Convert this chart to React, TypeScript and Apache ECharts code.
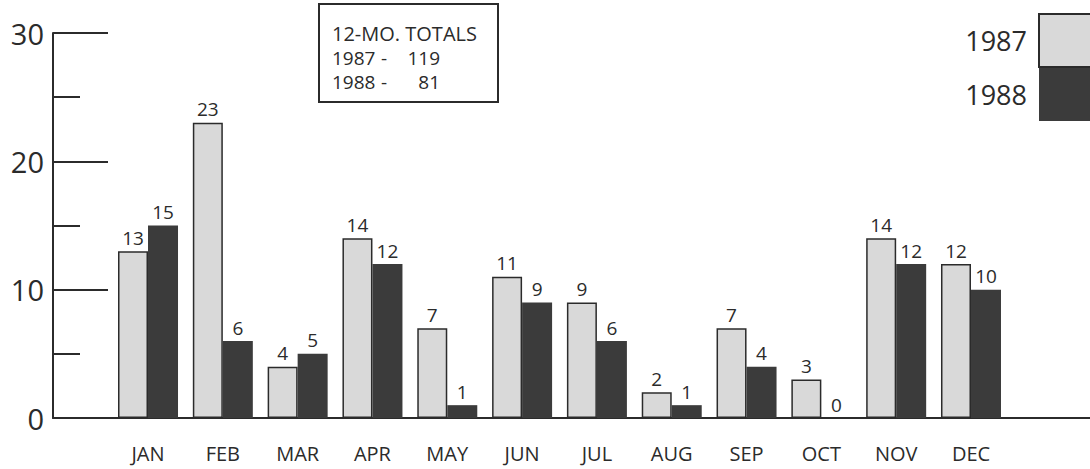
import React, { useEffect, useRef } from "react";
import * as echarts from "echarts";

const months = ["JAN", "FEB", "MAR", "APR", "MAY", "JUN", "JUL", "AUG", "SEP", "OCT", "NOV", "DEC"];
const values1987 = [13, 23, 4, 14, 7, 11, 9, 2, 7, 3, 14, 12];
const values1988 = [15, 6, 5, 12, 1, 9, 6, 1, 4, 0, 12, 10];
const seriesNames = ["1987", "1988"];
const totalsTitle = "12-MO. TOTALS";
const totals = [
  { year: "1987", total: "119" },
  { year: "1988", total: "81" },
];

const FONT = "'Open Sans', 'DejaVu Sans', sans-serif";
const W = 500;
const INK = "#2b2b2b";
const LIGHT = "#d9d9d9";
const DARK = "#3b3b3b";

export default function App() {
  const ref = useRef<HTMLDivElement>(null);

  useEffect(() => {
    if (!ref.current) return;
    const chart = echarts.init(ref.current, undefined, { renderer: "svg" });
    const top = 33;
    const bottom = 51;
    const option: any = {
      animation: false,
      backgroundColor: "#ffffff",
      textStyle: { fontFamily: FONT },
      grid: [
        { left: 110.6, right: 81.6, top, bottom },
        { left: 53, right: 0, top, bottom },
      ],
      xAxis: [
        {
          type: "category",
          gridIndex: 0,
          data: months,
          axisLine: { show: false },
          axisTick: { show: false },
          axisLabel: { color: INK, fontSize: 20, fontWeight: W, fontFamily: FONT, margin: 25 },
        },
        {
          type: "value",
          gridIndex: 1,
          min: 0,
          max: 1,
          axisLine: { show: true, onZero: false, lineStyle: { color: INK, width: 2 } },
          axisTick: { show: false },
          axisLabel: { show: false },
          splitLine: { show: false },
        },
      ],
      yAxis: [
        {
          type: "value",
          gridIndex: 0,
          min: 0,
          max: 30,
          show: false,
        },
        {
          type: "value",
          gridIndex: 1,
          min: 0,
          max: 30,
          interval: 10,
          axisLine: { show: true, lineStyle: { color: INK, width: 2 } },
          axisTick: { show: true, inside: true, length: 55, lineStyle: { color: INK, width: 2 } },
          minorTick: { show: true, splitNumber: 2, length: 27, lineStyle: { color: INK, width: 2 } },
          axisLabel: { color: INK, fontSize: 29, fontWeight: W, fontFamily: FONT, margin: 9 },
          splitLine: { show: false },
          minorSplitLine: { show: false },
        },
      ],
      legend: {
        orient: "vertical",
        right: -8,
        top: 13,
        padding: 0,
        align: "right",
        icon: "rect",
        itemWidth: 58,
        itemHeight: 53,
        itemGap: 0,
        data: seriesNames,
        textStyle: { fontSize: 27, fontWeight: W, color: INK, fontFamily: FONT, padding: [0, 7, 22, 0] },
      },
      series: [
        {
          name: seriesNames[0],
          type: "bar",
          xAxisIndex: 0,
          yAxisIndex: 0,
          data: values1987,
          barWidth: 30,
          barGap: "0%",
          itemStyle: { color: LIGHT, borderColor: INK, borderWidth: 1.5 },
          label: { show: true, position: "top", distance: 4, color: INK, fontSize: 19, fontWeight: W, fontFamily: FONT },
        },
        {
          name: seriesNames[1],
          type: "bar",
          xAxisIndex: 0,
          yAxisIndex: 0,
          data: values1988,
          barWidth: 30,
          barGap: "0%",
          itemStyle: { color: DARK },
          label: { show: true, position: "top", distance: 4, color: INK, fontSize: 19, fontWeight: W, fontFamily: FONT },
        },
      ],
      graphic: [
        {
          type: "group",
          left: 318,
          top: 3,
          children: [
            {
              type: "rect",
              shape: { x: 0, y: 0, width: 179, height: 98 },
              style: { fill: "#ffffff", stroke: INK, lineWidth: 2 },
            },
            {
              type: "text",
              x: 13,
              y: 29,
              style: { text: totalsTitle, fill: INK, font: `${W} 20px ${FONT}`, textVerticalAlign: "middle" },
            },
            ...totals.flatMap((t, i) => [
              {
                type: "text",
                x: 13,
                y: 54 + i * 24,
                style: { text: t.year, fill: INK, font: `${W} 19px ${FONT}`, textVerticalAlign: "middle" },
              },
              {
                type: "text",
                x: 62,
                y: 54 + i * 24,
                style: { text: "-", fill: INK, font: `${W} 19px ${FONT}`, textVerticalAlign: "middle" },
              },
              {
                type: "text",
                x: 121,
                y: 54 + i * 24,
                style: { text: t.total, fill: INK, font: `${W} 19px ${FONT}`, textAlign: "right", textVerticalAlign: "middle" },
              },
            ]),
          ],
        },
      ],
    };
    chart.setOption(option);
    return () => chart.dispose();
  }, []);

  return (
    <div
      ref={ref}
      style={{ position: "fixed", left: 0, top: 0, width: 1090, height: 469, background: "#fff" }}
    />
  );
}
